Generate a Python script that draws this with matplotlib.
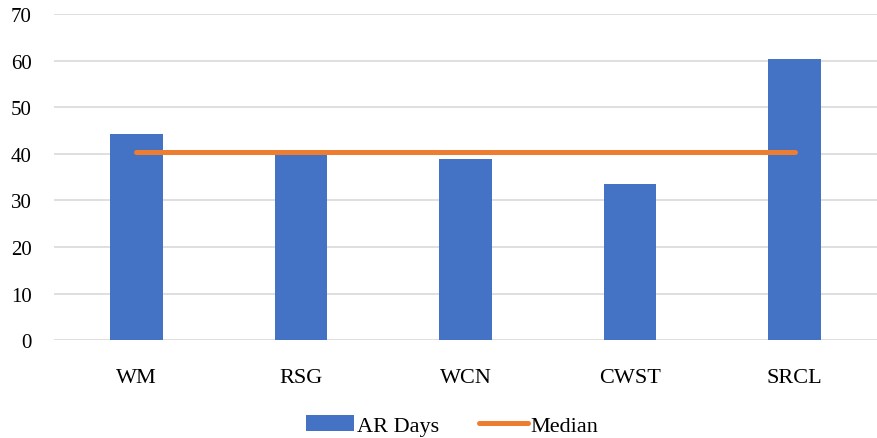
import matplotlib.pyplot as plt
from matplotlib.patches import Patch
from matplotlib.lines import Line2D

companies = ["WM", "RSG", "WCN", "CWST", "SRCL"]
ar_days = [44.3, 40.3, 38.9, 33.6, 60.3]
median_ar = [40.3, 40.3, 40.3, 40.3, 40.3]
y_ticks = [0, 10, 20, 30, 40, 50, 60, 70]

BLUE = "#4472C4"
ORANGE = "#ED7D31"

plt.rcParams["font.family"] = ["Liberation Serif", "DejaVu Serif"]

fig = plt.figure(figsize=(8.77, 4.39), dpi=100)
fig.patch.set_facecolor("white")
ax = fig.add_axes([0.0616, 0.223, 0.9384, 0.743])

x = list(range(len(companies)))
ax.bar(x, ar_days, width=0.32, color=BLUE, zorder=2)
ax.plot(x, median_ar, color=ORANGE, linewidth=3.6, solid_capstyle="round", zorder=3)

ax.set_xlim(-0.5, len(companies) - 0.5)
ax.set_ylim(0, 70)
ax.set_yticks(y_ticks)
ax.set_xticks(x)
ax.set_xticklabels(companies)
ax.tick_params(axis="y", length=0, pad=16, labelsize=15)
ax.tick_params(axis="x", length=0, pad=20, labelsize=16)
ax.yaxis.grid(True, color="#D9D9D9", linewidth=1.2, zorder=0)
ax.set_axisbelow(True)
for s in ax.spines.values():
    s.set_visible(False)

handles = [
    Patch(facecolor=BLUE, edgecolor="none"),
    Line2D([0], [0], color=ORANGE, linewidth=3.6, solid_capstyle="round"),
]
fig.legend(handles, ["AR Days", "Median"], loc="center", bbox_to_anchor=(0.515, 0.028),
           ncol=2, frameon=False, fontsize=16, handlelength=2.2, handletextpad=0.1,
           columnspacing=1.8)

fig.savefig("out.png", dpi=100, facecolor="white")
